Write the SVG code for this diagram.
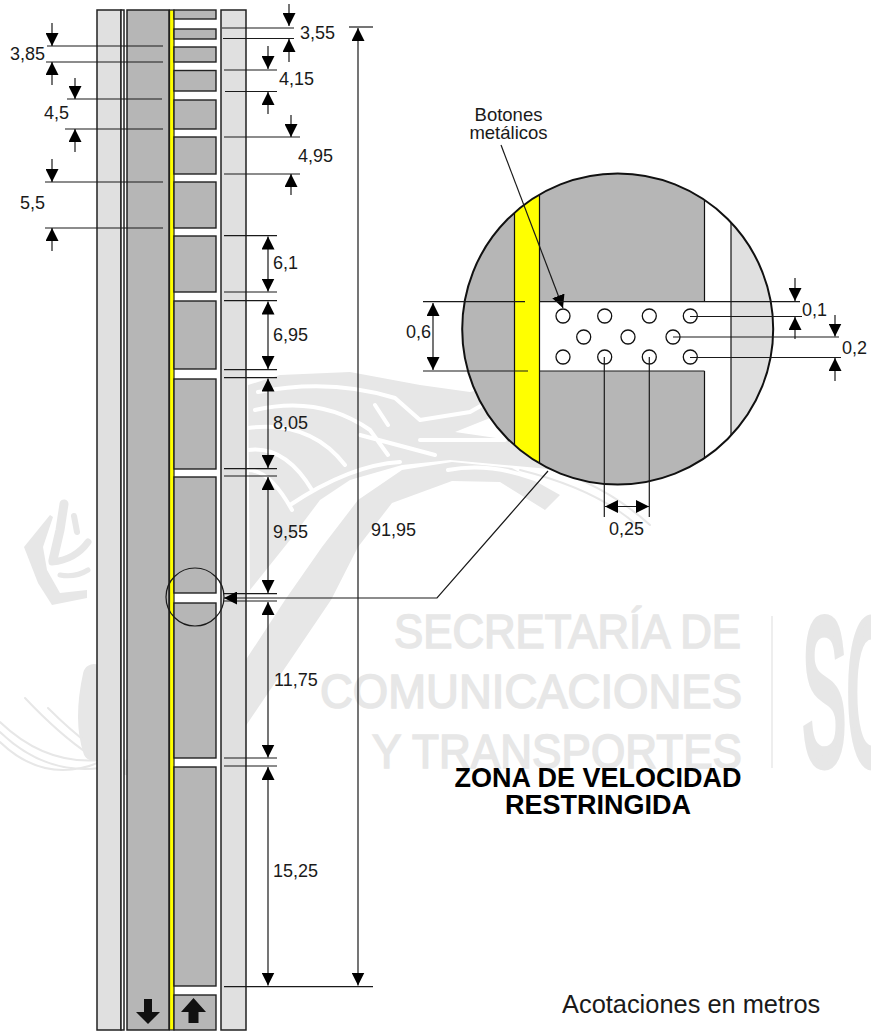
<svg xmlns="http://www.w3.org/2000/svg" width="871" height="1031" viewBox="0 0 871 1031">
<style>
text{font-family:"Liberation Sans",Arial,sans-serif;fill:#1a1a1a;font-size:18px}
.wt{fill:#e7e7e7;stroke:#e7e7e7;stroke-width:1.6;font-size:49px}
.wm{fill:none;stroke:#e7e7e7;stroke-linecap:round;stroke-linejoin:round}
.wg{fill:none;stroke:#fff;stroke-linecap:round;stroke-linejoin:round}
.b{fill:#b6b6b6;stroke:#222;stroke-width:1.4}
.l{fill:#e0e0e0;stroke:#222;stroke-width:1.5}
.d line,.d polyline{stroke:#1a1a1a;stroke-width:1.2;fill:none}
.a{marker-end:url(#ah)}
.aa{marker-start:url(#ahs);marker-end:url(#ah)}
.v line{stroke:#111;stroke-width:1.2}
.btn circle{fill:#fff;stroke:#111;stroke-width:1.3}
.ttl{font-weight:bold;font-size:27px;fill:#000;text-anchor:middle}
</style>
<defs>
<marker id="ah" markerUnits="userSpaceOnUse" markerWidth="14" markerHeight="13" refX="13" refY="6.5" orient="auto"><path d="M0,0L13,6.5L0,13Z" fill="#000"/></marker>
<marker id="ahs" markerUnits="userSpaceOnUse" markerWidth="14" markerHeight="13" refX="13" refY="6.5" orient="auto-start-reverse"><path d="M0,0L13,6.5L0,13Z" fill="#000"/></marker>
<clipPath id="lens"><circle cx="617.7" cy="329" r="155.5"/></clipPath>
</defs>
<rect width="871" height="1031" fill="#fff"/>

<g id="watermark">
<text class="wt" x="394" y="648" textLength="347" lengthAdjust="spacingAndGlyphs">SECRETARÍA DE</text>
<text class="wt" x="320" y="708" textLength="422" lengthAdjust="spacingAndGlyphs">COMUNICACIONES</text>
<text class="wt" x="372" y="768" textLength="370" lengthAdjust="spacingAndGlyphs">Y TRANSPORTES</text>
<rect x="771" y="616" width="2" height="152" fill="#eee"/>
<text class="wt" x="802" y="764" textLength="92" lengthAdjust="spacingAndGlyphs" style="font-size:208px;stroke-width:9px">SC</text>
<path fill="#e7e7e7" d="M50,515L24,547L38,583L52,605L87,598L87,590L60,593L47,570L43,547L53,517Z"/>
<path class="wm" stroke-width="9" d="M64,504L60,530L53,560"/>
<path class="wm" stroke-width="7" d="M52,562Q75,560 88,542"/>
<path class="wm" stroke-width="5" d="M60,575Q75,578 88,570"/>
<path class="wm" stroke-width="6" d="M74,516L77,532"/>
<path class="wm" stroke-width="22" d="M94,675Q84,720 94,750"/>
<path class="wm" stroke-width="2" d="M0,722Q45,765 100,760M0,732Q45,775 100,768M0,742Q45,785 100,762M25,698Q60,735 90,755M48,708Q70,730 90,745"/>
<path fill="#e7e7e7" d="M560,495L512,468L452,462L402,470L358,500L322,547L285,600L200,730L100,770L200,790L245,727L331,600L358,547L392,503L452,481L500,482L545,510Z"/>
<path fill="#e7e7e7" d="M248,385L280,375L350,372L420,385L470,392L520,380L545,395L505,412L455,432L510,440L560,470L450,460L402,465L350,480L320,500L290,540L250,590Z"/>
<path class="wg" stroke-width="4" d="M258,392Q330,378 395,398L420,420L470,412L500,395M255,410Q320,395 370,430L388,455M248,428Q310,420 345,465M248,450Q285,445 312,490M248,470Q270,470 292,510M375,405L388,425M420,440L505,440M360,435L435,455M448,470Q500,460 560,490M290,505Q350,465 400,462"/>
<path class="wm" stroke-width="2" d="M520,470Q600,490 640,528M535,465Q600,480 650,525"/>
</g>

<g id="road">
<rect class="l" x="97" y="10" width="24" height="1020"/>
<rect x="121" y="10" width="3" height="1020" fill="#fff" stroke="#222" stroke-width="1.5"/>
<rect x="127" y="10" width="42" height="1020" fill="#b6b6b6" stroke="#222" stroke-width="1.5"/>
<rect x="174" y="10" width="47" height="1020" fill="#fff" stroke="none"/>
<rect class="l" x="221" y="10" width="25" height="1020"/>
<rect x="169.500" y="10" width="4.500" height="1020" fill="#ff0" stroke="#222" stroke-width="1.2"/>
</g>

<g id="blocks">
<rect class="b" x="174" y="10" width="42" height="9"/>
<rect class="b" x="174" y="29" width="42" height="10"/>
<rect class="b" x="174" y="47" width="42" height="15"/>
<rect class="b" x="174" y="70.500" width="42" height="20.500"/>
<rect class="b" x="174" y="100" width="42" height="29"/>
<rect class="b" x="174" y="137" width="42" height="37"/>
<rect class="b" x="174" y="182" width="42" height="46"/>
<rect class="b" x="174" y="236" width="42" height="56"/>
<rect class="b" x="174" y="301" width="42" height="68"/>
<rect class="b" x="174" y="379" width="42" height="90"/>
<rect class="b" x="174" y="477" width="42" height="116"/>
<rect class="b" x="174" y="603" width="42" height="155"/>
<rect class="b" x="174" y="767" width="42" height="219"/>
<rect class="b" x="174" y="995" width="42" height="35"/>
</g>

<g id="lane-arrows" fill="#111">
<path d="M144,999H152V1012H160L148,1024L136,1012H144Z"/>
<path d="M193.500,998L206,1012H198.500V1023H188.500V1012H181Z"/>
</g>

<g id="detail-circle">
<g clip-path="url(#lens)">
<rect x="460" y="170" width="320" height="320" fill="#fff"/>
<rect x="460" y="170" width="54.500" height="320" fill="#b6b6b6"/>
<rect x="514.500" y="170" width="25" height="320" fill="#ff0"/>
<rect x="539.500" y="170" width="165" height="320" fill="#b6b6b6"/>
<rect x="539.500" y="301.700" width="191" height="69.300" fill="#fff"/>
<rect x="731" y="170" width="45" height="320" fill="#e0e0e0"/>
<g class="v">
<line x1="514.500" y1="170" x2="514.500" y2="490"/>
<line x1="539.500" y1="170" x2="539.500" y2="490"/>
<line x1="704.500" y1="170" x2="704.500" y2="301.700"/>
<line x1="704.500" y1="371" x2="704.500" y2="490"/>
<line x1="731" y1="170" x2="731" y2="490"/>
</g>
</g>
<circle cx="617.700" cy="329" r="155.500" fill="none" stroke="#111" stroke-width="2"/>
<g class="btn">
<circle cx="563" cy="316" r="7"/><circle cx="604.700" cy="316" r="7"/><circle cx="649.300" cy="316" r="7"/><circle cx="690.300" cy="316" r="7"/>
<circle cx="583.700" cy="337" r="7"/><circle cx="628" cy="337" r="7"/><circle cx="673" cy="337" r="7"/>
<circle cx="563" cy="357" r="7"/><circle cx="604.700" cy="357" r="7"/><circle cx="649.300" cy="357" r="7"/><circle cx="690.300" cy="357" r="7"/>
</g>
</g>

<g id="connectors" class="d">
<line x1="222" y1="28" x2="294" y2="28"/><line x1="223" y1="38.500" x2="294" y2="38.500"/>
<line class="a" x1="289" y1="4" x2="289" y2="26"/><line class="a" x1="289" y1="62" x2="289" y2="39"/>
<line x1="47" y1="46" x2="163" y2="46"/><line x1="46" y1="62" x2="163" y2="62"/>
<line class="a" x1="52" y1="23" x2="52" y2="46"/><line class="a" x1="52" y1="85" x2="52" y2="62"/>
<line x1="224" y1="70" x2="277" y2="70"/><line x1="225" y1="91.500" x2="277" y2="91.500"/>
<line class="a" x1="268" y1="46" x2="268" y2="69"/><line class="a" x1="268" y1="114" x2="268" y2="92"/>
<line x1="67" y1="99" x2="162" y2="99"/><line x1="65" y1="129" x2="163" y2="129"/>
<line class="a" x1="75" y1="78" x2="75" y2="99"/><line class="a" x1="75" y1="152" x2="75" y2="129"/>
<line x1="224" y1="137" x2="300" y2="137"/><line x1="224" y1="174" x2="300" y2="174"/>
<line class="a" x1="291" y1="115" x2="291" y2="137"/><line class="a" x1="291" y1="195" x2="291" y2="174"/>
<line x1="45" y1="182" x2="163" y2="182"/><line x1="45" y1="228" x2="163" y2="228"/>
<line class="a" x1="52" y1="159" x2="52" y2="182"/><line class="a" x1="52" y1="251" x2="52" y2="228"/>

<line x1="224" y1="235.700" x2="277" y2="235.700"/><line x1="224" y1="292" x2="277" y2="292"/>
<line x1="224" y1="300.700" x2="277" y2="300.700"/><line x1="224" y1="369.700" x2="277" y2="369.700"/>
<line x1="224" y1="377.700" x2="277" y2="377.700"/><line x1="224" y1="468.700" x2="277" y2="468.700"/>
<line x1="224" y1="476" x2="277" y2="476"/><line x1="224" y1="593.700" x2="277" y2="593.700"/>
<line x1="224" y1="601" x2="277" y2="601"/><line x1="224" y1="758" x2="277" y2="758"/>
<line x1="224" y1="766" x2="277" y2="766"/><line x1="224" y1="986.700" x2="373" y2="986.700"/>
<line x1="349" y1="27" x2="373" y2="27"/>
<line class="aa" x1="268" y1="236.500" x2="268" y2="291.500"/>
<line class="aa" x1="268" y1="301.500" x2="268" y2="369"/>
<line class="aa" x1="268" y1="378.500" x2="268" y2="468"/>
<line class="aa" x1="268" y1="477" x2="268" y2="593"/>
<line class="aa" x1="268" y1="602" x2="268" y2="757.500"/>
<line class="aa" x1="268" y1="767" x2="268" y2="985.500"/>
<line class="aa" x1="358" y1="28" x2="358" y2="985.500"/>

<circle cx="195" cy="597" r="29" fill="none" stroke="#1a1a1a" stroke-width="1.2"/>
<polyline class="a" points="548,471 437,598 224,598"/>
<line class="a" x1="501" y1="145" x2="563" y2="308"/>

<line x1="423" y1="301.700" x2="525" y2="301.700"/><line x1="423" y1="371" x2="528" y2="371"/>
<line x1="539.500" y1="301.700" x2="800" y2="301.700"/><line x1="539.500" y1="371" x2="704.500" y2="371"/>
<line class="aa" x1="433" y1="303" x2="433" y2="370"/>
<line x1="690" y1="316.500" x2="802" y2="316.500"/>
<line x1="673" y1="337" x2="839" y2="337"/>
<line x1="690" y1="357.500" x2="841" y2="357.500"/>
<line class="a" x1="795" y1="278" x2="795" y2="301"/><line class="a" x1="795" y1="339" x2="795" y2="317"/>
<line class="a" x1="835" y1="315" x2="835" y2="336.500"/><line class="a" x1="835" y1="381" x2="835" y2="358"/>
<line x1="604.300" y1="357" x2="604.300" y2="517"/><line x1="649.300" y1="357" x2="649.300" y2="517"/>
<line class="aa" x1="605" y1="506.500" x2="649" y2="506.500"/>
</g>

<g id="labels">
<text x="10" y="60">3,85</text>
<text x="300" y="39">3,55</text>
<text x="279" y="85">4,15</text>
<text x="44" y="119">4,5</text>
<text x="298" y="162">4,95</text>
<text x="20" y="209">5,5</text>
<text x="273" y="269">6,1</text>
<text x="273" y="341">6,95</text>
<text x="273" y="429">8,05</text>
<text x="273" y="538">9,55</text>
<text x="274" y="686">11,75</text>
<text x="273" y="877">15,25</text>
<text x="371" y="536">91,95</text>
<text x="609" y="535">0,25</text>
<text x="802" y="316">0,1</text>
<text x="842" y="354">0,2</text>
<text x="406" y="338">0,6</text>
<text x="508.500" y="121" text-anchor="middle" style="font-size:18.500px">Botones</text>
<text x="508.500" y="139" text-anchor="middle" style="font-size:18.500px">metálicos</text>
<text class="ttl" x="598" y="787">ZONA DE VELOCIDAD</text>
<text class="ttl" x="598" y="814">RESTRINGIDA</text>
<text x="562" y="1013" style="font-size:25.400px">Acotaciones en metros</text>
</g>
</svg>
